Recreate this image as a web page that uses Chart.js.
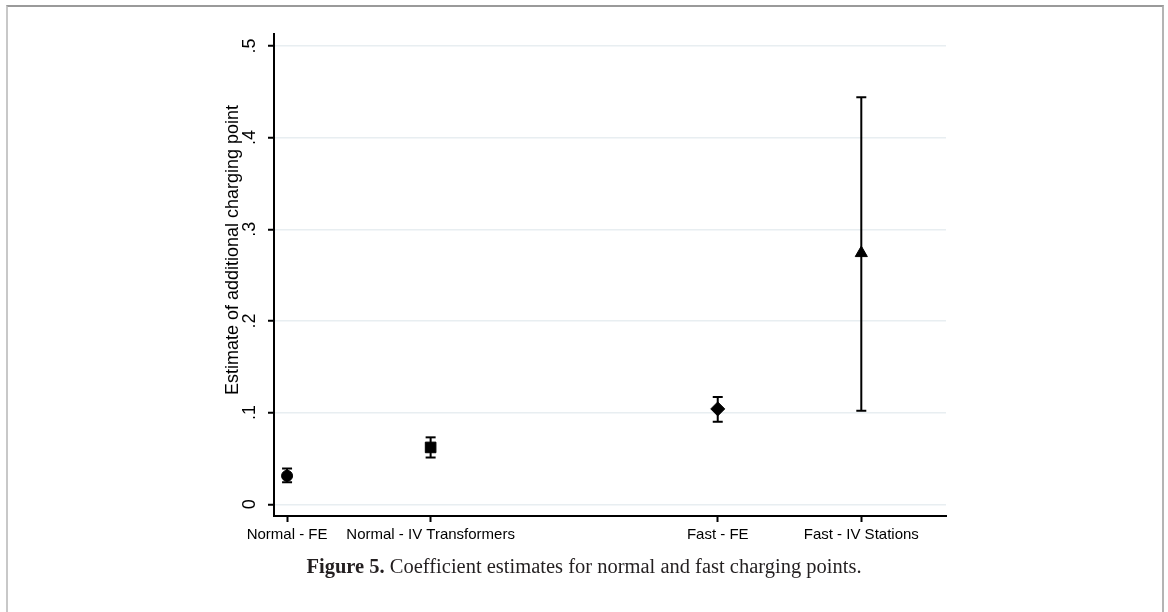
<!DOCTYPE html>
<html>
<head>
<meta charset="utf-8">
<script src="https://cdn.jsdelivr.net/npm/chart.js@4.4.0/dist/chart.umd.min.js"></script>
<style>
  html, body { margin: 0; padding: 0; background: #fff; }
  body { width: 1168px; height: 612px; position: relative; overflow: hidden; }
  #frame { position: absolute; left: 6px; top: 5px; width: 1154px; height: 700px;
    border-top: 2px solid #9a9a9a; border-left: 2px solid #c8c8c8; border-right: 2px solid #b4b4b4; }
  #wrap { position: absolute; left: 0; top: 0; width: 1168px; height: 612px; }
  #caption { position: absolute; left: 0; width: 1168px; top: 555px; text-align: center;
    font-family: "Liberation Serif", "Times New Roman", serif; font-size: 20.5px; color: #231f20; }
</style>
</head>
<body>
<div id="frame"></div>
<div id="wrap"><canvas id="chart"></canvas></div>
<div id="caption"><b>Figure 5.</b> Coefficient estimates for normal and fast charging points.</div>
<script>
const labels = ["Normal - FE", "Normal - IV Transformers", "Fast - FE", "Fast - IV Stations"];
const xPos = [1, 2, 4, 5];
const estimates = [0.031, 0.062, 0.104, 0.274];
const ciLow = [0.024, 0.051, 0.090, 0.102];
const ciHigh = [0.039, 0.073, 0.117, 0.444];
const markers = ["circle", "rect", "rectRot", "triangle"];
const yTicks = [0, 0.1, 0.2, 0.3, 0.4, 0.5];

Chart.defaults.font.family = "'Liberation Sans', Arial, sans-serif";
Chart.defaults.color = "#000";

// error bars: low -> high, gap between each
const barPoints = [];
xPos.forEach((x, i) => {
  barPoints.push({ x: x, y: ciLow[i] });
  barPoints.push({ x: x, y: ciHigh[i] });
  barPoints.push({ x: x, y: null });
});

new Chart(document.getElementById("chart"), {
  type: "scatter",
  data: {
    datasets: [
      {
        data: xPos.map((x, i) => ({ x: x, y: estimates[i] })),
        pointStyle: markers,
        pointRadius: [5.5, 7.5, 7, 7],
        backgroundColor: "#000",
        borderColor: "#000",
        borderWidth: 1,
        order: 0,
      },
      {
        data: barPoints,
        showLine: true,
        spanGaps: false,
        borderColor: "#000",
        borderWidth: 2,
        pointStyle: "line",
        pointRadius: 5,
        pointBorderWidth: 2,
        pointBorderColor: "#000",
        order: 1,
      },
    ],
  },
  options: {
    responsive: true,
    maintainAspectRatio: false,
    animation: false,
    layout: { padding: { left: 220, top: 34, right: 222, bottom: 0 } },
    plugins: { legend: { display: false }, tooltip: { enabled: false } },
    scales: {
      x: {
        type: "linear",
        min: 0.909,
        max: 5.59,
        afterBuildTicks: (s) => { s.ticks = xPos.map((v) => ({ value: v })); },
        afterFit: (s) => { s.height = 96; },
        ticks: {
          autoSkip: false,
          maxRotation: 0,
          padding: 4,
          font: { size: 15 },
          callback: (v) => labels[xPos.indexOf(v)],
        },
        grid: { drawOnChartArea: false, tickLength: 6, tickColor: "#000", tickWidth: 2 },
        border: { color: "#000", width: 2 },
      },
      y: {
        min: -0.0128,
        max: 0.513,
        afterBuildTicks: (s) => { s.ticks = yTicks.map((v) => ({ value: v })); },
        afterFit: (s) => { s.width = 54; },
        ticks: {
          autoSkip: false,
          minRotation: 90,
          maxRotation: 90,
          crossAlign: "center",
          padding: 10,
          font: { size: 18 },
          callback: (v) => (v === 0 ? "0" : "." + Math.round(v * 10)),
        },
        grid: { color: "#e8eef1", lineWidth: 1.5, tickLength: 6, tickColor: "#000", tickWidth: 2 },
        border: { color: "#000", width: 2 },
        title: {
          display: true,
          // leading spaces nudge the centred title up, as in the original
          text: "\u00a0\u00a0\u00a0\u00a0\u00a0\u00a0\u00a0\u00a0\u00a0\u00a0Estimate of additional charging point",
          font: { size: 18 },
          padding: { top: 2, bottom: 0 },
        },
      },
    },
  },
});
</script>
</body>
</html>
